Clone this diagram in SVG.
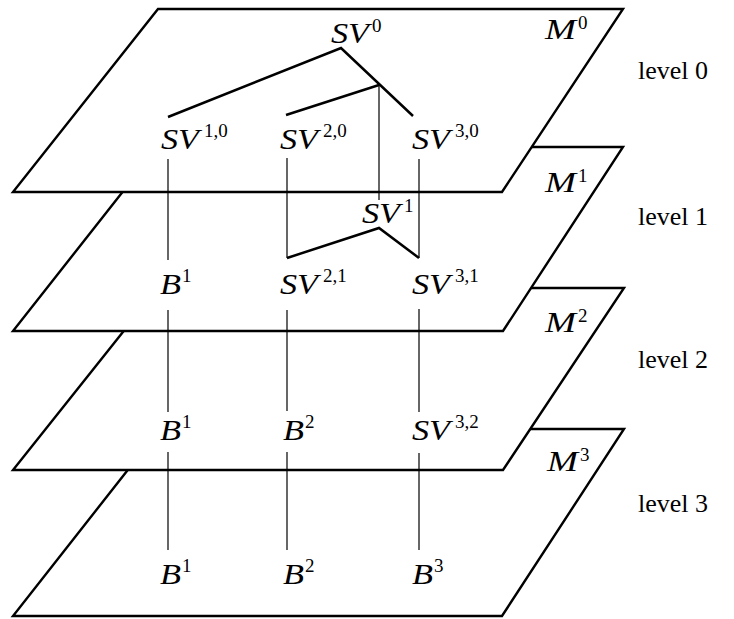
<svg xmlns="http://www.w3.org/2000/svg" width="734" height="619" viewBox="0 0 734 619">
<style>
.plane{fill:#fff;stroke:#000;stroke-width:2.4;stroke-linejoin:miter}
.tree{fill:none;stroke:#000;stroke-width:2.5;stroke-linejoin:miter}
.thin{fill:none;stroke:#000;stroke-width:1.2}
.m{font-family:"Liberation Serif","Times New Roman",serif;font-style:italic;font-size:29px;fill:#000}
.s{font-family:"Liberation Serif","Times New Roman",serif;font-style:normal;font-size:19px;fill:#000}
.lv{font-family:"Liberation Serif","Times New Roman",serif;font-size:26px;fill:#000}
</style>
<g id="planes">
<polygon id="plane3" class="plane" points="160,429 624,429 502,616 13,616"/>
<polygon id="plane2" class="plane" points="158,288 624,288 503,470 13,470"/>
<polygon id="plane1" class="plane" points="158,147 623,147 503,331 13,331"/>
<polygon id="plane0" class="plane" points="158,9 623,9 502,192 13,192"/>
</g>
<g id="connectors">
<polyline class="tree" points="168,117 341,48 413,116"/>
<line class="tree" x1="286" y1="115" x2="379" y2="85"/>
<line class="thin" x1="379" y1="85" x2="379" y2="200"/>
<polyline class="tree" points="287,258 379,228 419,258"/>
<line class="thin" x1="287" y1="158" x2="287" y2="258"/>
<line class="thin" x1="419" y1="159" x2="419" y2="258"/>
<line class="thin" x1="168" y1="159" x2="168" y2="260"/>
<line class="thin" x1="168" y1="310" x2="168" y2="412"/>
<line class="thin" x1="168" y1="452" x2="168" y2="550"/>
<line class="thin" x1="287" y1="310" x2="287" y2="411"/>
<line class="thin" x1="287" y1="452" x2="287" y2="550"/>
<line class="thin" x1="419" y1="309" x2="419" y2="412"/>
<line class="thin" x1="419" y1="453" x2="419" y2="550"/>
</g>
<g id="n-M0"><text class="m" x="545" y="39" textLength="31" lengthAdjust="spacingAndGlyphs">M</text><text class="s" x="578" y="29">0</text></g>
<g id="n-M1"><text class="m" x="545" y="192" textLength="31" lengthAdjust="spacingAndGlyphs">M</text><text class="s" x="578" y="182">1</text></g>
<g id="n-M2"><text class="m" x="545" y="332" textLength="31" lengthAdjust="spacingAndGlyphs">M</text><text class="s" x="578" y="322">2</text></g>
<g id="n-M3"><text class="m" x="547" y="471" textLength="31" lengthAdjust="spacingAndGlyphs">M</text><text class="s" x="580" y="461">3</text></g>
<g id="n-level0"><text class="lv" x="638" y="79">level 0</text></g>
<g id="n-level1"><text class="lv" x="638" y="225">level 1</text></g>
<g id="n-level2"><text class="lv" x="638" y="368">level 2</text></g>
<g id="n-level3"><text class="lv" x="638" y="512">level 3</text></g>
<g id="n-SV0"><text class="m" x="331" y="43" textLength="38" lengthAdjust="spacingAndGlyphs">SV</text><text class="s" x="372" y="32">0</text></g>
<g id="n-SV10"><text class="m" x="161" y="149" textLength="38" lengthAdjust="spacingAndGlyphs">SV</text><text class="s" x="204" y="137">1,0</text></g>
<g id="n-SV20"><text class="m" x="280" y="149" textLength="38" lengthAdjust="spacingAndGlyphs">SV</text><text class="s" x="323" y="137">2,0</text></g>
<g id="n-SV30"><text class="m" x="412" y="149" textLength="38" lengthAdjust="spacingAndGlyphs">SV</text><text class="s" x="455" y="137">3,0</text></g>
<g id="n-SV1"><text class="m" x="362" y="223" textLength="38" lengthAdjust="spacingAndGlyphs">SV</text><text class="s" x="404" y="212">1</text></g>
<g id="n-B1-1"><text class="m" x="160" y="294" textLength="21" lengthAdjust="spacingAndGlyphs">B</text><text class="s" x="182" y="282">1</text></g>
<g id="n-SV21"><text class="m" x="280" y="294" textLength="38" lengthAdjust="spacingAndGlyphs">SV</text><text class="s" x="323" y="282">2,1</text></g>
<g id="n-SV31"><text class="m" x="412" y="294" textLength="38" lengthAdjust="spacingAndGlyphs">SV</text><text class="s" x="455" y="282">3,1</text></g>
<g id="n-B1-2"><text class="m" x="160" y="440" textLength="21" lengthAdjust="spacingAndGlyphs">B</text><text class="s" x="182" y="428">1</text></g>
<g id="n-B2-2"><text class="m" x="283" y="440" textLength="21" lengthAdjust="spacingAndGlyphs">B</text><text class="s" x="305" y="428">2</text></g>
<g id="n-SV32"><text class="m" x="412" y="440" textLength="38" lengthAdjust="spacingAndGlyphs">SV</text><text class="s" x="455" y="428">3,2</text></g>
<g id="n-B1-3"><text class="m" x="160" y="584" textLength="21" lengthAdjust="spacingAndGlyphs">B</text><text class="s" x="182" y="572">1</text></g>
<g id="n-B2-3"><text class="m" x="283" y="584" textLength="21" lengthAdjust="spacingAndGlyphs">B</text><text class="s" x="305" y="572">2</text></g>
<g id="n-B3-3"><text class="m" x="412" y="584" textLength="21" lengthAdjust="spacingAndGlyphs">B</text><text class="s" x="434" y="572">3</text></g>
</svg>
